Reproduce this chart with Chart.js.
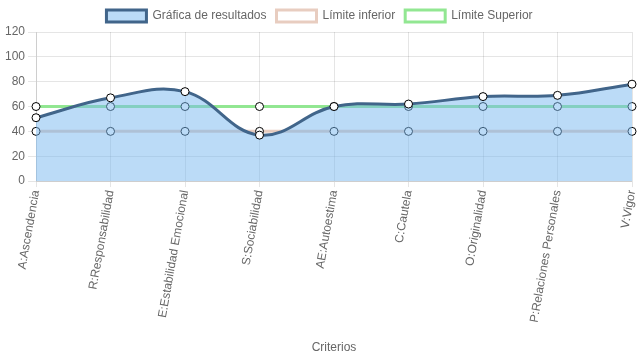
<!DOCTYPE html>
<html><head><meta charset="utf-8">
<script src="https://cdn.jsdelivr.net/npm/chart.js@4"></script>
<style>html,body{margin:0;padding:0;background:#fff}#w{width:637px;height:359px}</style>
</head><body><div id="w"><canvas id="c"></canvas></div>
<script>
const categories = ["A:Ascendencia","R:Responsabilidad","E:Estabilidad Emocional","S:Sociabilidad","AE:Autoestima","C:Cautela","O:Originalidad","P:Relaciones Personales","V:Vigor"];
const resultados = [51,67,72,37,60,62,68,69,78];
const limiteInferior = [40,40,40,40,40,40,40,40,40];
const limiteSuperior = [60,60,60,60,60,60,60,60,60];
const yTicks = [0,20,40,60,80,100,120];

Chart.defaults.font.family = "'Liberation Sans', Arial, Helvetica, sans-serif";
Chart.defaults.font.size = 12;
Chart.defaults.color = '#666';

new Chart(document.getElementById('c'), {
  type: 'line',
  data: {
    labels: categories,
    datasets: [
      {label:'Gráfica de resultados', data: resultados, fill: 'origin', tension: 0.4,
       borderColor:'#41658a', backgroundColor:'rgba(120,184,240,0.5)', borderWidth:3,
       pointRadius:4, pointBackgroundColor:'#fff', pointBorderColor:'#000', pointBorderWidth:1},
      {label:'Límite inferior', data: limiteInferior, fill:false, tension:0.4,
       borderColor:'rgba(230,200,185,0.9)', backgroundColor:'#fff', borderWidth:3,
       pointRadius:4, pointBackgroundColor:'#fff', pointBorderColor:'#000', pointBorderWidth:1},
      {label:'Límite Superior', data: limiteSuperior, fill:false, tension:0.4,
       borderColor:'rgba(140,230,140,0.95)', backgroundColor:'#fff', borderWidth:3,
       pointRadius:4, pointBackgroundColor:'#fff', pointBorderColor:'#000', pointBorderWidth:1}
    ]
  },
  options: {
    responsive: true, maintainAspectRatio: false, animation: false,
    layout: {padding: {right: 0, left: 2}},
    plugins: {
      legend: {labels: {boxWidth: 40, boxHeight: 12, color:'#666', padding: 10}},
      tooltip: {enabled:false}
    },
    scales: {
      x: {
        title: {display:true, text:'Criterios', color:'#666', padding: {top: 15, bottom: 4}},
        grid: {color:'rgba(0,0,0,0.1)', tickLength: 6},
        ticks: {minRotation: 80, maxRotation: 80, autoSkip:false, color:'#666', padding: 2},
        afterFit: s => { s.paddingRight = 0; s.paddingLeft = 0; }
      },
      y: {
        min: 0, max: 120,
        afterBuildTicks: ax => { ax.ticks = yTicks.map(v => ({value: v})); },
        grid: {color:'rgba(0,0,0,0.1)'},
        ticks: {color:'#666', stepSize: 20}
      }
    }
  }
});
</script></body></html>
